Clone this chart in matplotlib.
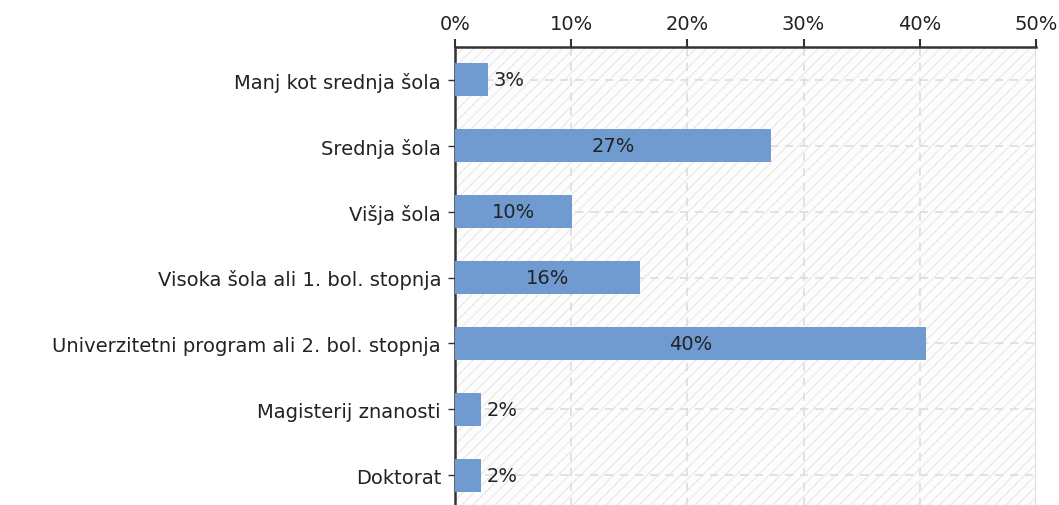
import matplotlib.pyplot as plt
import matplotlib.ticker as mticker

categories = [
    "Manj kot srednja šola",
    "Srednja šola",
    "Višja šola",
    "Visoka šola ali 1. bol. stopnja",
    "Univerzitetni program ali 2. bol. stopnja",
    "Magisterij znanosti",
    "Doktorat",
]
values = [2.8, 27.2, 10.1, 15.9, 40.5, 2.2, 2.2]
labels = ["3%", "27%", "10%", "16%", "40%", "2%", "2%"]
xticks = [0, 10, 20, 30, 40, 50]

plt.rcParams['font.family'] = ['DejaVu Sans']
fs = 14
fig = plt.figure(figsize=(10.59, 5.06), dpi=100)
ax = fig.add_axes([455 / 1059, -3 / 506, (1036 - 455) / 1059, (509 - 48) / 506])

# hatched background
ax.axvspan(0, 50, facecolor='#fdfdfd', edgecolor='#ebebeb', hatch='///', lw=0, zorder=0)

y = list(range(len(categories)))
bars = ax.barh(y, values, height=0.5, color='#6f9bd1', zorder=3)

# value labels: inside for long bars, outside for short ones
for bar, value, lab in zip(bars, values, labels):
    yc = bar.get_y() + bar.get_height() / 2
    if value > 6:
        ax.text(value / 2, yc, lab, ha='center', va='center', fontsize=fs, color='#222222', zorder=4)
    else:
        ax.text(value + 0.5, yc, lab, ha='left', va='center', fontsize=fs, color='#222222', zorder=4)

ax.set_xlim(0, 50)
ax.set_ylim(len(categories) - 0.5, -0.5)
ax.set_yticks(y)
ax.set_yticklabels(categories, fontsize=fs, color='#222222')
ax.set_xticks(xticks)
ax.xaxis.set_major_formatter(mticker.FuncFormatter(lambda v, p: f"{v:.0f}%"))
ax.xaxis.tick_top()
ax.tick_params(axis='x', labelsize=fs, labelcolor='#222222', length=6, width=1.5, color='#333333', pad=4)
ax.tick_params(axis='y', length=5, width=1, color='#333333', pad=5)

ax.grid(True, linestyle=(0, (5, 4)), color='#dddddd', lw=1.2, zorder=1)
ax.set_axisbelow(True)

for s in ['bottom', 'right']:
    ax.spines[s].set_visible(False)
ax.spines['top'].set_color('#333333')
ax.spines['top'].set_linewidth(1.8)
ax.spines['left'].set_color('#333333')
ax.spines['left'].set_linewidth(1.8)
ax.axvline(50, color='#dddddd', lw=1.2, zorder=1)

fig.savefig('out.png', dpi=100)
